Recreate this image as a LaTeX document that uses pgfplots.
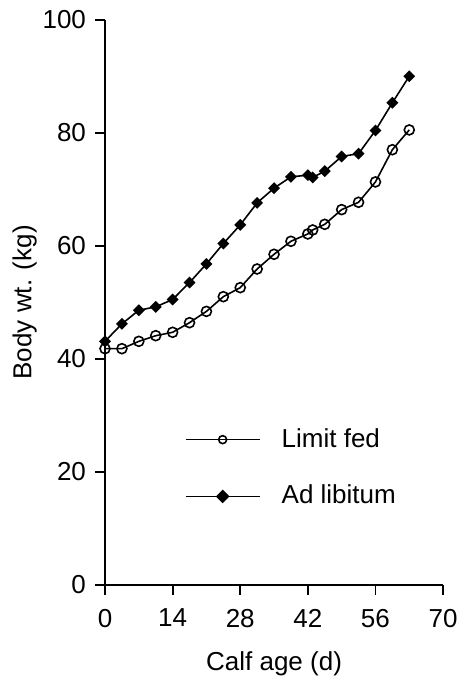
\documentclass[border=0pt]{standalone}
\usepackage{fontspec}
\setmainfont{Liberation Sans}
\usepackage{pgfplots}
\pgfplotsset{compat=1.18}
\begin{document}
\fontsize{13}{15.6}\selectfont
\begin{tikzpicture}
\begin{axis}[
  scale only axis,
  width=169pt, height=282.6pt,
  xmin=0, xmax=70, ymin=0, ymax=100,
  axis lines=left,
  axis line style={-, line width=0.9pt},
  xtick={0,14,28,42,56,70},
  ytick={0,20,40,60,80,100},
  tick align=outside,
  major tick length=5pt,
  tick style={line width=0.9pt, black},
  /pgf/number format/assume math mode=true,
  ticklabel style={font=\fontsize{13}{15.6}\selectfont},
  xticklabel style={yshift=-2.5pt},
  label style={font=\fontsize{13}{15.6}\selectfont},
  xlabel={Calf age (d)},
  ylabel={Body wt. (kg)},
  xlabel shift=3pt,
  ylabel shift=-6pt,
  clip=false,
  legend style={draw=none, fill=none, at={(0.235,0.285)}, anchor=north west,
    font=\fontsize{13}{15.6}\selectfont, row sep=13pt, inner sep=0pt,
    nodes={inner xsep=0pt}},
  legend cell align=left,
  legend image code/.code={
    \draw[#1, mark repeat=2, mark phase=2, mark size=2pt] plot coordinates {(0pt,0pt) (18.5pt,0pt) (37pt,0pt)};
    \path[draw=none] (37pt,0pt) -- (48pt,0pt);
  },
]
\addplot[black, line width=0.8pt, mark=o, mark size=2.5pt, mark options={fill=white, line width=0.8pt}] coordinates {
(0,41.8) (3.5,41.8) (7,43.1) (10.5,44.1) (14,44.7) (17.5,46.4) (21,48.4) (24.5,51.0)
(28,52.6) (31.5,55.9) (35,58.5) (38.5,60.8) (42,62.1) (43,62.8) (45.5,63.8) (49,66.4)
(52.5,67.7) (56,71.3) (59.5,77.0) (63,80.5)
};
\addlegendentry{Limit fed}
\addplot[black, line width=0.8pt, mark=square*, mark size=1.7pt, mark options={fill=black, rotate=45}] coordinates {
(0,43.1) (3.5,46.2) (7,48.6) (10.5,49.2) (14,50.5) (17.5,53.5) (21,56.8) (24.5,60.4)
(28,63.7) (31.5,67.6) (35,70.2) (38.5,72.2) (42,72.5) (43,72.1) (45.5,73.2) (49,75.8)
(52.5,76.3) (56,80.4) (59.5,85.3) (63,90.0)
};
\addlegendentry{Ad libitum}
\end{axis}
\pgfresetboundingbox
\path ([shift={(-52.5pt,-46pt)}]current axis.south west) rectangle ([shift={(8.5pt,9.85pt)}]current axis.north east);
\end{tikzpicture}
\end{document}
